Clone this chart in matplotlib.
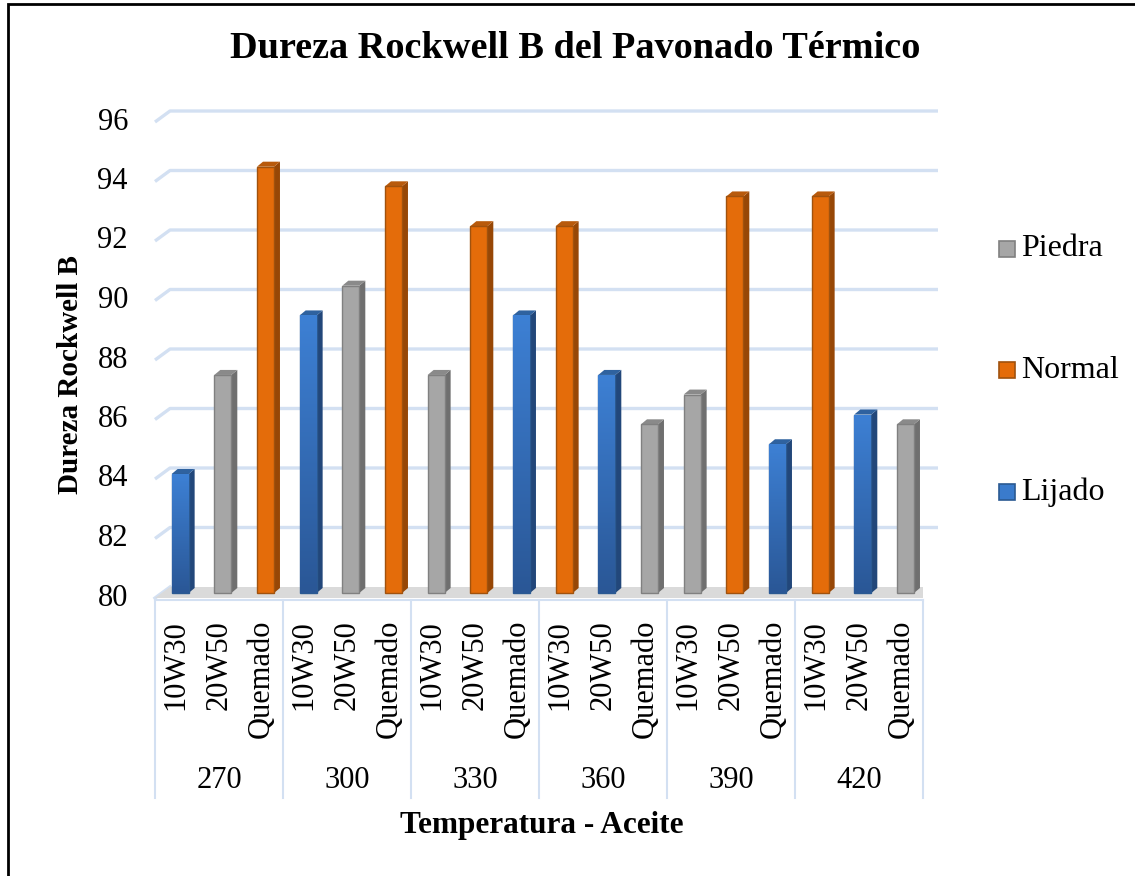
import numpy as np
import matplotlib
matplotlib.use('Agg')
import matplotlib.pyplot as plt
from matplotlib.patches import Polygon, Rectangle

plt.rcParams['font.family'] = ['Liberation Serif', 'DejaVu Serif']

# datos
temperaturas = ['270', '300', '330', '360', '390', '420']
aceites = ['10W30', '20W50', 'Quemado']
# acabado de cada barra (en orden de aparicion)
acabado = ['Lijado', 'Piedra', 'Normal',
           'Lijado', 'Piedra', 'Normal',
           'Piedra', 'Normal', 'Lijado',
           'Normal', 'Lijado', 'Piedra',
           'Piedra', 'Normal', 'Lijado',
           'Normal', 'Lijado', 'Piedra']
dureza = [84.0, 87.33, 94.33,
          89.33, 90.33, 93.67,
          87.33, 92.33, 89.33,
          92.33, 87.33, 85.67,
          86.67, 93.33, 85.0,
          93.33, 86.0, 85.67]
series = ['Piedra', 'Normal', 'Lijado']
yticks = [80, 82, 84, 86, 88, 90, 92, 94, 96]

colores = {'Piedra': ('#a6a6a6', '#6f6f6f', '#8a8a8a', '#808080'),
           'Normal': ('#e46c0a', '#974706', '#b85a0c', '#a0520e'),
           'Lijado': ('#3a7bcc', '#22477a', '#2f629f', '#2b5a92')}

fig = plt.figure(figsize=(11.35, 8.76), dpi=100)
ax = fig.add_axes([155 / 1135, 1 - 598 / 876, (923 - 155) / 1135, (598 - 122) / 876])
ymin, ymax = 80, 96
n = len(dureza)
ax.set_xlim(0, n)
ax.set_ylim(ymin, ymax)
ax.axis('off')

# profundidad 3D en unidades de datos
px_x = n / (923 - 155)
px_y = (ymax - ymin) / (598 - 122)
wdx, wdy = 15 * px_x, 11 * px_y      # pared del fondo
bdx, bdy = 6 * px_x, 5 * px_y        # profundidad de la barra
off_x, off_y = 0.39, 5 * px_y
bw = 17 * px_x

gcol = '#d3e0f2'
# suelo
ax.add_patch(Polygon([(0, ymin), (n, ymin), (n + wdx, ymin + wdy), (wdx, ymin + wdy)],
                     closed=True, facecolor='#dadada', edgecolor='none', zorder=1))
# lineas de la cuadricula
for t in yticks[1:]:
    ax.plot([0, wdx, n + wdx], [t, t + wdy, t + wdy], color=gcol, lw=2.4,
            clip_on=False, zorder=0, solid_capstyle='butt')
ax.plot([0, wdx], [ymin, ymin + wdy], color=gcol, lw=2.4, clip_on=False, zorder=0)

# barras con efecto 3D
grad = np.linspace(0, 1, 100).reshape(-1, 1)
for i, (v, s) in enumerate(zip(dureza, acabado)):
    front, side, top, edge = colores[s]
    x0 = i + off_x
    y0 = ymin + off_y
    y1 = v + off_y
    ax.add_patch(Polygon([(x0 + bw, y0), (x0 + bw, y1), (x0 + bw + bdx, y1 + bdy),
                          (x0 + bw + bdx, y0 + bdy)], closed=True, facecolor=side,
                         edgecolor='none', zorder=3))
    ax.add_patch(Polygon([(x0, y1), (x0 + bw, y1), (x0 + bw + bdx, y1 + bdy),
                          (x0 + bdx, y1 + bdy)], closed=True, facecolor=top,
                         edgecolor='none', zorder=3))
    r = Rectangle((x0, y0), bw, y1 - y0, facecolor=front, edgecolor=edge, lw=1.0, zorder=4)
    ax.add_patch(r)
    if s == 'Lijado':
        cm = matplotlib.colors.LinearSegmentedColormap.from_list('b', ['#2a5796', '#3d80d4'])
        im = ax.imshow(grad, extent=(x0, x0 + bw, y0, y1), origin='lower', cmap=cm,
                       aspect='auto', zorder=4.5)
        im.set_clip_path(r)
ax.set_xlim(0, n)
ax.set_ylim(ymin, ymax)

# etiquetas del eje y
for t in yticks:
    ax.text(-27 * px_x, t, str(t), ha='right', va='center', fontsize=22, clip_on=False)

# etiquetas del eje x (dos niveles)
lab_y = ymin - 22 * px_y
for i in range(n):
    ax.text(i + 0.5, lab_y, aceites[i % 3], rotation=90, ha='center', va='top',
            fontsize=22, clip_on=False)
for g, t in enumerate(temperaturas):
    ax.text(3 * g + 1.5, ymin - 182 * px_y, t, ha='center', va='center', fontsize=22,
            clip_on=False)
for g in range(len(temperaturas) + 1):
    ax.plot([3 * g, 3 * g], [ymin - 2 * px_y, ymin - 200 * px_y], color=gcol, lw=1.5,
            clip_on=False)
ax.plot([0, n], [ymin - 2 * px_y, ymin - 2 * px_y], color=gcol, lw=1.5, clip_on=False)

fig.text(575 / 1135, 1 - 49 / 876, 'Dureza Rockwell B del Pavonado Térmico',
         ha='center', va='center', fontsize=27.5, fontweight='bold')
fig.text(542 / 1135, 1 - 826 / 876, 'Temperatura - Aceite', ha='center', va='center',
         fontsize=22.5, fontweight='bold')
fig.text(70 / 1135, 1 - 375 / 876, 'Dureza Rockwell B', ha='center', va='center',
         rotation=90, fontsize=21, fontweight='bold')

# leyenda
for s, yy in zip(series, [249, 370, 492]):
    front, side, top, edge = colores[s]
    fig.patches.append(Rectangle((999 / 1135, 1 - (yy + 8) / 876), 16 / 1135, 16 / 876,
                                 facecolor=front, edgecolor=edge, lw=1.2,
                                 transform=fig.transFigure, figure=fig))
    fig.text(1021 / 1135, 1 - yy / 876, s, ha='left', va='center', fontsize=23)

# marco
fig.patches.append(Rectangle((8 / 1135, -0.05), 1.1, 1.05 - 4 / 876, fill=False,
                             edgecolor='black', lw=2, transform=fig.transFigure, figure=fig))

fig.savefig('out.png', dpi=100)
